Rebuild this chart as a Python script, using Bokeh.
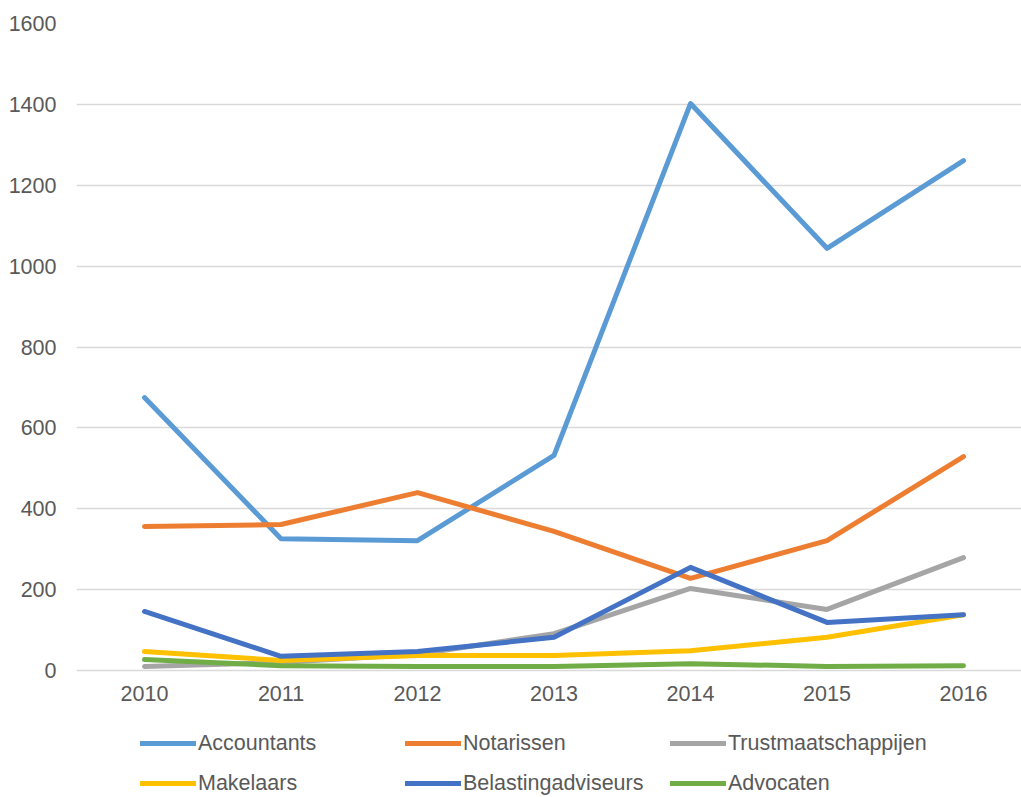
from bokeh.plotting import figure
from bokeh.models import Legend, LegendItem, FixedTicker, Range1d
from bokeh.core.properties import value
from bokeh.embed import file_html
from bokeh.resources import INLINE

years = ["2010", "2011", "2012", "2013", "2014", "2015", "2016"]
accountants = [675, 326, 321, 532, 1402, 1044, 1261]
notarissen = [356, 361, 440, 344, 228, 321, 529]
trustmaatschappijen = [10, 20, 40, 91, 203, 151, 279]
makelaars = [47, 25, 37, 37, 49, 82, 138]
belastingadviseurs = [146, 35, 47, 82, 255, 119, 138]
advocaten = [27, 12, 10, 10, 17, 10, 12]
y_ticks = [0, 200, 400, 600, 800, 1000, 1200, 1400, 1600]

series = [
    ("Accountants", accountants, "#5B9BD5"),
    ("Notarissen", notarissen, "#ED7D31"),
    ("Trustmaatschappijen", trustmaatschappijen, "#A5A5A5"),
    ("Makelaars", makelaars, "#FFC000"),
    ("Belastingadviseurs", belastingadviseurs, "#4472C4"),
    ("Advocaten", advocaten, "#70AD47"),
]

FONT = "Liberation Sans"
TXT = "#595959"
FS = "21.5px"

W, H = 1021, 797
TOP, LEFT = 23, 76
PX_PER_UNIT = 647 / 1600.0
y_start = 1600 - (H - TOP) / PX_PER_UNIT

xs = [int(y) for y in years]
# category slots: first year centred 68 px from the frame's left edge, 136.5 px per year
SLOT = 136.5
x_start = xs[0] - 68 / SLOT
x_end = xs[0] + (W - LEFT - 68) / SLOT

p = figure(x_range=Range1d(x_start, x_end), y_range=Range1d(y_start, 1600), width=W, height=H,
           output_backend="svg", toolbar_location=None,
           min_border_left=LEFT, min_border_right=0, min_border_top=TOP, min_border_bottom=0)
p.outline_line_color = None

renderers = []
for name, vals, col in series:
    r = p.line(xs, vals, line_color=col, line_width=5, line_cap="round", line_join="round")
    renderers.append((name, r))

p.xgrid.grid_line_color = None
p.ygrid.grid_line_color = "#D9D9D9"
p.ygrid.grid_line_width = 1.5
p.ygrid.ticker = FixedTicker(ticks=y_ticks)
p.yaxis.ticker = FixedTicker(ticks=y_ticks)
p.yaxis.axis_line_color = None
p.yaxis.major_tick_line_color = None
p.yaxis.minor_tick_line_color = None
p.yaxis.major_label_standoff = 14
p.yaxis.major_label_text_font = FONT
p.yaxis.major_label_text_font_size = FS
p.yaxis.major_label_text_color = TXT
p.xaxis.visible = False

# category labels under the baseline
p.text(x=xs, y=[0] * len(xs), text=years, y_offset=23,
       text_align="center", text_baseline="middle",
       text_font=value(FONT), text_font_size=FS, text_color=TXT)

items = [LegendItem(label=n, renderers=[r]) for n, r in renderers]
legend = Legend(items=items, location=(64, -6), orientation="horizontal", ncols=3,
                glyph_width=56, glyph_height=40, label_standoff=2, spacing=0,
                label_width=207, label_height=40,
                label_text_font=FONT, label_text_font_size=FS, label_text_color=TXT,
                background_fill_alpha=0, border_line_color=None, padding=0, margin=0)
p.add_layout(legend, "center")

open("out.html", "w").write(file_html(p, INLINE))
